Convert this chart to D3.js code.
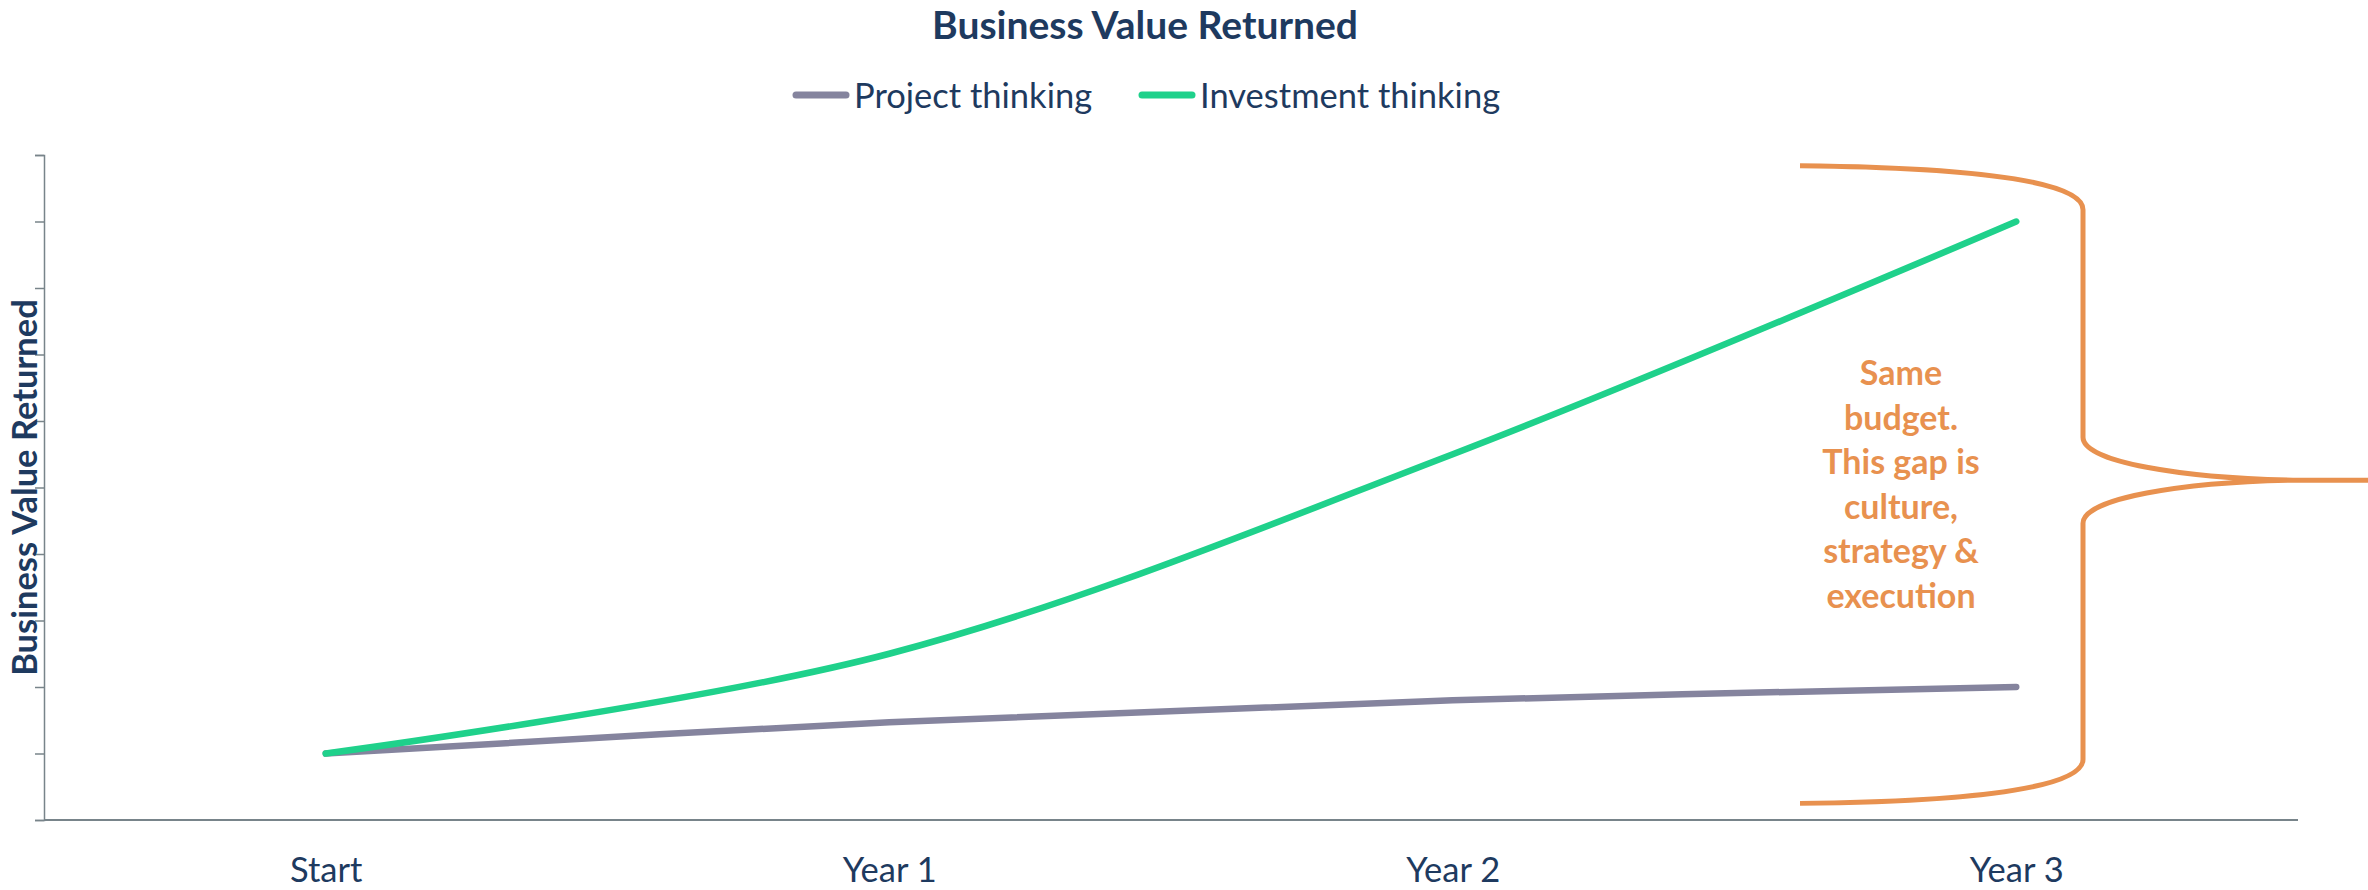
<!DOCTYPE html>
<html>
<head>
<meta charset="utf-8">
<script src="https://cdn.jsdelivr.net/npm/d3@7"></script>
<style>
  html, body { margin: 0; padding: 0; background: #fff; }
  svg text { font-family: Lato, "Open Sans", sans-serif; }
</style>
</head>
<body>
<div id="container"></div>
<script>
/* CONSTANTS AND GLOBALS */
const width = 2368,
  height = 890,
  margin = { top: 155, bottom: 70, left: 44, right: 70 }

const textColor = "#1e3a5f"
const axisColor = "#78848a"
const braceColor = "#e8914f"

/* DATA */
const categories = ["Start", "Year 1", "Year 2", "Year 3"]
const projectValues = [1.0, 1.47, 1.8, 2.0]
const investmentValues = [1.0, 2.5, 5.5, 9.0]
const yTickValues = [0, 1, 2, 3, 4, 5, 6, 7, 8, 9, 10]
const seriesNames = ["Project thinking", "Investment thinking"]
const seriesColors = ["#85849e", "#1fd18b"]
const noteLines = ["Same", "budget.", "This gap is", "culture,", "strategy &", "execution"]

const series = [
  { name: seriesNames[0], color: seriesColors[0], values: projectValues },
  { name: seriesNames[1], color: seriesColors[1], values: investmentValues }
]

// SCALES
const xScale = d3.scalePoint()
  .domain(categories)
  .range([margin.left, width - margin.right])
  .padding(0.5)

const yScale = d3.scaleLinear()
  .domain([0, 10])
  .range([height - margin.bottom, margin.top])

// CREATE SVG ELEMENT
const svg = d3.select("#container")
  .append("svg")
  .attr("width", width)
  .attr("height", height)

// TITLE
svg.append("text")
  .attr("x", 1145)
  .attr("y", 39)
  .attr("text-anchor", "middle")
  .attr("font-size", 39)
  .attr("font-weight", "bold")
  .attr("fill", textColor)
  .text("Business Value Returned")

// LEGEND
const legendX = [796, 1142]
const legend = svg.selectAll(".legend")
  .data(series)
  .join("g")
  .attr("class", "legend")
  .attr("transform", (d, i) => `translate(${legendX[i]}, 95)`)

legend.append("line")
  .attr("x1", 0)
  .attr("x2", 50)
  .attr("stroke", d => d.color)
  .attr("stroke-width", 7)
  .attr("stroke-linecap", "round")

legend.append("text")
  .attr("x", 58)
  .attr("y", 13)
  .attr("font-size", 34.5)
  .attr("fill", textColor)
  .text(d => d.name)

// AXES
const xAxisGroup = svg.append("g")
  .attr("transform", `translate(0, ${height - margin.bottom})`)
  .call(d3.axisBottom(xScale).tickSize(0).tickPadding(38))

xAxisGroup.select(".domain")
  .attr("d", `M${margin.left},0H${width - margin.right}`)
  .attr("stroke", axisColor)
  .attr("stroke-width", 2)

xAxisGroup.selectAll("text")
  .attr("font-size", 34.5)
  .attr("font-family", "Lato")
  .attr("fill", textColor)

const yAxisGroup = svg.append("g")
  .attr("transform", `translate(${margin.left}, 0)`)
  .call(d3.axisLeft(yScale).tickValues(yTickValues).tickSize(9).tickSizeOuter(9).tickFormat(""))

yAxisGroup.selectAll("path, line")
  .attr("stroke", axisColor)
  .attr("stroke-width", 1.5)

svg.append("text")
  .attr("transform", "rotate(-90)")
  .attr("x", 0 - (margin.top + height - margin.bottom) / 2)
  .attr("y", 37)
  .attr("text-anchor", "middle")
  .attr("font-size", 34.5)
  .attr("font-weight", "bold")
  .attr("fill", textColor)
  .text("Business Value Returned")

// LINE GENERATOR FUNCTION
const lineGen = d3.line()
  .x((d, i) => xScale(categories[i]))
  .y(d => yScale(d))
  .curve(d3.curveCatmullRom.alpha(0.5))

svg.selectAll(".line")
  .data(series)
  .join("path")
  .attr("class", "line")
  .attr("fill", "none")
  .attr("stroke", d => d.color)
  .attr("stroke-width", 6.5)
  .attr("stroke-linecap", "round")
  .attr("d", d => lineGen(d.values))

// BRACE + NOTE
const bx0 = 1800, bx1 = 2083, bx2 = width
const byTop = yScale(9.84), byMid = yScale(5.11), byBot = yScale(0.25)

const bracePath = `M${bx0},${byTop}
  C${bx0 + 190},${byTop + 2} ${bx1},${byTop + 18} ${bx1},${byTop + 44}
  L${bx1},${byMid - 43}
  C${bx1},${byMid - 18} ${bx1 + 100},${byMid - 2} ${bx1 + 210},${byMid}
  L${bx2},${byMid}
  M${bx1 + 210},${byMid}
  C${bx1 + 100},${byMid + 2} ${bx1},${byMid + 18} ${bx1},${byMid + 43}
  L${bx1},${byBot - 44}
  C${bx1},${byBot - 18} ${bx0 + 190},${byBot - 2} ${bx0},${byBot}`

svg.append("path")
  .attr("d", bracePath)
  .attr("fill", "none")
  .attr("stroke", braceColor)
  .attr("stroke-width", 5)

svg.append("text")
  .attr("text-anchor", "middle")
  .attr("font-size", 34)
  .attr("font-weight", "bold")
  .attr("fill", braceColor)
  .selectAll("tspan")
  .data(noteLines)
  .join("tspan")
  .attr("x", 1901)
  .attr("y", (d, i) => 385 + i * 44.6)
  .text(d => d)

</script>
</body>
</html>
